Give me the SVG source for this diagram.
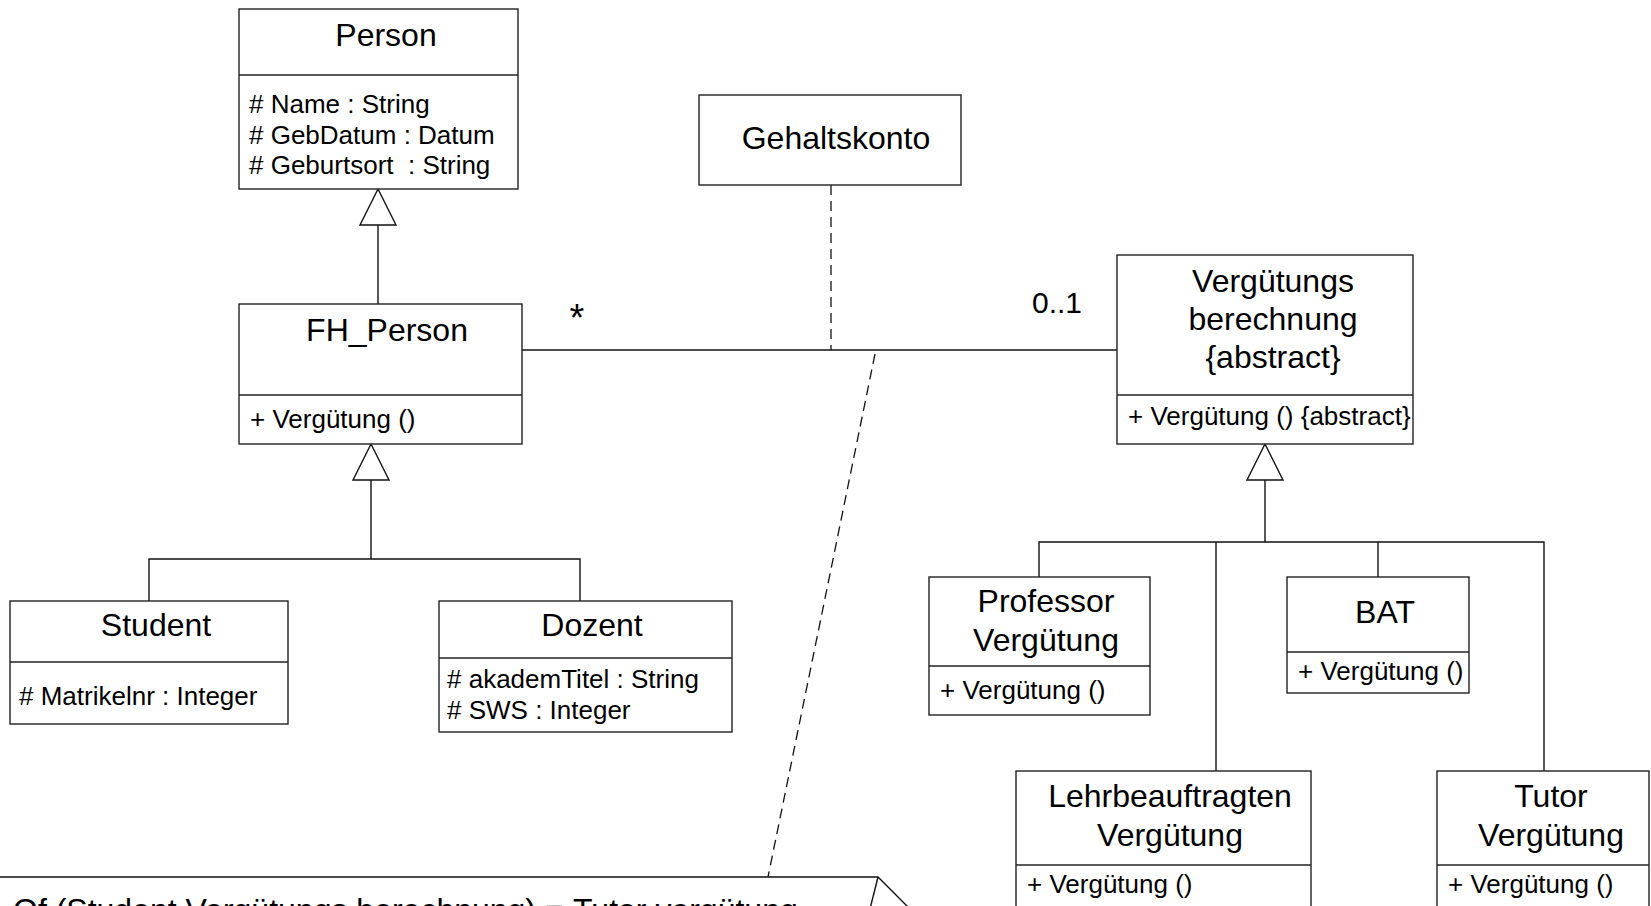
<svg xmlns="http://www.w3.org/2000/svg" width="1651" height="906" viewBox="0 0 1651 906">
<style>
.box{fill:#fff;stroke:#222;stroke-width:1.4}
.div{stroke:#222;stroke-width:1.6}
.ln{stroke:#111;stroke-width:1.4;fill:none}
.dash{stroke:#111;stroke-width:1.3;fill:none;stroke-dasharray:10 6}
.tri{fill:#fff;stroke:#111;stroke-width:1.4}
.t{font-family:"Liberation Sans",Arial,sans-serif;font-size:32px;fill:#000;text-anchor:middle}
.a{font-family:"Liberation Sans",Arial,sans-serif;font-size:26px;fill:#000}
.m{font-family:"Liberation Sans",Arial,sans-serif;font-size:30px;fill:#000}
</style>
<rect width="1651" height="906" fill="#fff"/>
<g id="connectors">
  <line class="ln" x1="378" y1="225" x2="378" y2="304"/>
  <polygon class="tri" points="378,189 360,225 396,225"/>
  <line class="ln" x1="371" y1="480" x2="371" y2="559"/>
  <polygon class="tri" points="371,444 353,480 389,480"/>
  <polyline class="ln" points="149,601 149,559 580,559 580,601"/>
  <line class="ln" x1="522" y1="350" x2="1117" y2="350"/>
  <line class="dash" x1="831" y1="185" x2="831" y2="350"/>
  <line class="dash" x1="875" y1="354" x2="768" y2="877"/>
  <line class="ln" x1="1265" y1="480" x2="1265" y2="542"/>
  <polygon class="tri" points="1265,444 1247,480 1283,480"/>
  <polyline class="ln" points="1039,577 1039,542 1544,542 1544,771"/>
  <line class="ln" x1="1216" y1="542" x2="1216" y2="771"/>
  <line class="ln" x1="1378" y1="542" x2="1378" y2="577"/>
  <text class="m" style="font-size:38px" x="577" y="331" text-anchor="middle">*</text>
  <text class="m" x="1032" y="313">0..1</text>
</g>
<g id="person">
  <rect class="box" x="239" y="9" width="279" height="180"/>
  <line class="div" x1="239" y1="75" x2="518" y2="75"/>
  <text class="t" x="386" y="46">Person</text>
  <text class="a" x="249" y="113"># Name : String</text>
  <text class="a" x="249" y="144"># GebDatum : Datum</text>
  <text class="a" x="249" y="174" xml:space="preserve"># Geburtsort  : String</text>
</g>
<g id="fh_person">
  <rect class="box" x="239" y="304" width="283" height="140"/>
  <line class="div" x1="239" y1="395" x2="522" y2="395"/>
  <text class="t" x="387" y="341">FH_Person</text>
  <text class="a" x="250" y="428">+ Vergütung ()</text>
</g>
<g id="gehaltskonto">
  <rect class="box" x="699" y="95" width="262" height="90"/>
  <text class="t" x="836" y="149">Gehaltskonto</text>
</g>
<g id="verguetungsberechnung">
  <rect class="box" x="1117" y="255" width="296" height="189"/>
  <line class="div" x1="1117" y1="395" x2="1413" y2="395"/>
  <text class="t" x="1273" y="292">Vergütungs</text>
  <text class="t" x="1273" y="330">berechnung</text>
  <text class="t" x="1273" y="368">{abstract}</text>
  <text class="a" x="1128" y="425">+ Vergütung () {abstract}</text>
</g>
<g id="student">
  <rect class="box" x="10" y="601" width="278" height="123"/>
  <line class="div" x1="10" y1="662" x2="288" y2="662"/>
  <text class="t" x="156" y="636">Student</text>
  <text class="a" x="19" y="705"># Matrikelnr : Integer</text>
</g>
<g id="dozent">
  <rect class="box" x="439" y="601" width="293" height="131"/>
  <line class="div" x1="439" y1="658" x2="732" y2="658"/>
  <text class="t" x="592" y="636">Dozent</text>
  <text class="a" x="447" y="688"># akademTitel : String</text>
  <text class="a" x="447" y="719"># SWS : Integer</text>
</g>
<g id="professor">
  <rect class="box" x="929" y="577" width="221" height="138"/>
  <line class="div" x1="929" y1="666" x2="1150" y2="666"/>
  <text class="t" x="1046" y="612">Professor</text>
  <text class="t" x="1046" y="651">Vergütung</text>
  <text class="a" x="940" y="699">+ Vergütung ()</text>
</g>
<g id="bat">
  <rect class="box" x="1287" y="577" width="182" height="116"/>
  <line class="div" x1="1287" y1="652" x2="1469" y2="652"/>
  <text class="t" x="1385" y="623">BAT</text>
  <text class="a" x="1298" y="680">+ Vergütung ()</text>
</g>
<g id="lehrbeauftragten">
  <rect class="box" x="1016" y="771" width="295" height="150"/>
  <line class="div" x1="1016" y1="865" x2="1311" y2="865"/>
  <text class="t" x="1170" y="807">Lehrbeauftragten</text>
  <text class="t" x="1170" y="846">Vergütung</text>
  <text class="a" x="1027" y="893">+ Vergütung ()</text>
</g>
<g id="tutor">
  <rect class="box" x="1437" y="771" width="212" height="150"/>
  <line class="div" x1="1437" y1="865" x2="1649" y2="865"/>
  <text class="t" x="1551" y="807">Tutor</text>
  <text class="t" x="1551" y="846">Vergütung</text>
  <text class="a" x="1448" y="893">+ Vergütung ()</text>
</g>
<g id="note">
  <path class="ln" d="M -2 877 H 878 L 922 921"/>
  <path class="ln" d="M 878 877 L 867 921"/>
  <text class="m" style="font-size:32px" x="13" y="921">Of (Student Vergütungs berechnung) =<tspan x="573">Tutor vergütung</tspan></text>
</g>
</svg>
